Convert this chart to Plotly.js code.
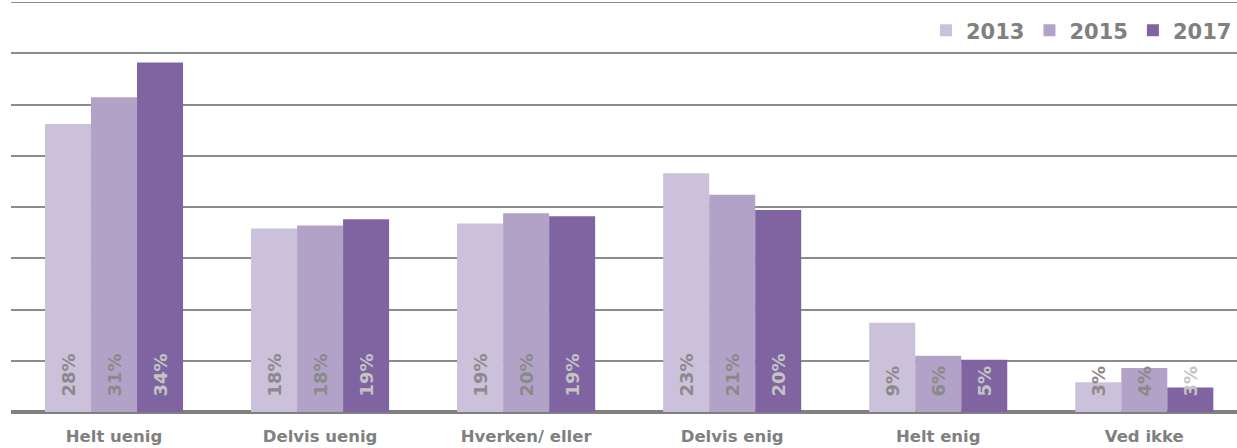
<!DOCTYPE html>
<html>
<head>
<meta charset="utf-8">
<script src="https://cdn.plot.ly/plotly-3.0.1.min.js"></script>
<style>html,body{margin:0;padding:0;background:#fff}#chart{width:1237px;height:448px}</style>
</head>
<body>
<div id="chart"></div>
<script>
const categories = ['Helt uenig', 'Delvis uenig', 'Hverken/ eller', 'Delvis enig', 'Helt enig', 'Ved ikke'];
const years = ['2013', '2015', '2017'];
const values2013 = [28.1, 17.9, 18.4, 23.3, 8.7, 2.9];
const values2015 = [30.7, 18.2, 19.4, 21.2, 5.5, 4.3];
const values2017 = [34.1, 18.8, 19.1, 19.7, 5.1, 2.4];
const labels2013 = [28, 18, 19, 23, 9, 3];
const labels2015 = [31, 18, 20, 21, 6, 4];
const labels2017 = [34, 19, 19, 20, 5, 3];

const colors = ['#ccc1da', '#b3a2c7', '#8064a2'];
const textColors = ['#8a8a8a', '#8a8a8a', '#c4c4c4'];
const allValues = [values2013, values2015, values2017];
const allLabels = [labels2013, labels2015, labels2017];
const pad = '\u00a0\u00a0';

const traces = years.map((yr, i) => ({
  type: 'bar',
  name: yr,
  x: categories,
  y: allValues[i],
  text: allLabels[i].map(v => pad + v + '%'),
  textposition: 'inside',
  insidetextanchor: 'start',
  textangle: -90,
  constraintext: 'none',
  textfont: {family: 'DejaVu Sans', size: 18, color: textColors[i], weight: 'bold'},
  marker: {color: colors[i], line: {width: 0}},
  cliponaxis: false,
  hoverinfo: 'skip'
}));

const layout = {
  width: 1237, height: 448,
  margin: {l: 11, r: 0, t: 2, b: 36, autoexpand: false},
  paper_bgcolor: '#ffffff', plot_bgcolor: '#ffffff',
  barmode: 'group', bargap: 0.33, bargroupgap: 0,
  uniformtext: {mode: false},
  font: {family: 'DejaVu Sans', color: '#808080'},
  xaxis: {
    range: [-0.5, 5.45],
    showgrid: false, showline: false, zeroline: false, ticks: '',
    ticklabelstandoff: 12,
    tickfont: {family: 'DejaVu Sans', size: 16.5, color: '#808080', weight: 'bold'},
    fixedrange: true
  },
  yaxis: {
    range: [0, 40], dtick: 5, showticklabels: false, ticks: '',
    showgrid: true, gridcolor: '#8c8c8c', gridwidth: 2,
    zeroline: true, zerolinecolor: '#808080', zerolinewidth: 4,
    showline: false, fixedrange: true
  },
  shapes: [{
    type: 'line', xref: 'paper', yref: 'y', x0: 0, x1: 1, y0: 40, y1: 40,
    line: {color: '#8c8c8c', width: 2}, layer: 'below'
  }],
  showlegend: true,
  legend: {
    orientation: 'h', x: 1, xanchor: 'right', y: 0.98, yanchor: 'top',
    font: {family: 'DejaVu Sans', size: 21, color: '#808080', weight: 'bold'},
    bgcolor: 'rgba(255,255,255,0)', itemwidth: 30, traceorder: 'normal'
  }
};

Plotly.newPlot('chart', traces, layout, {staticPlot: true, displayModeBar: false});
</script>
</body>
</html>
